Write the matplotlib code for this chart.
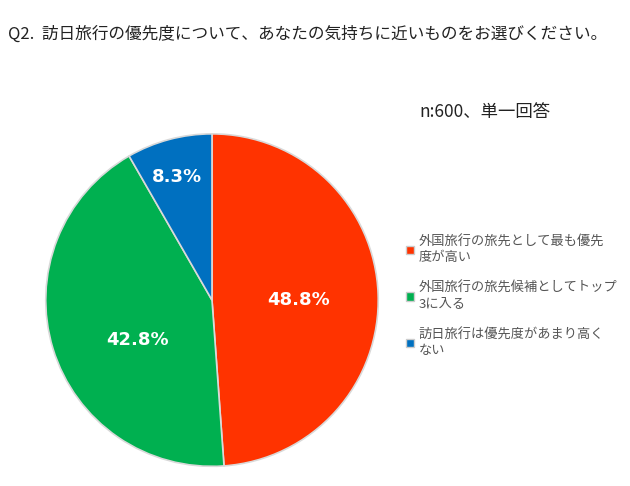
import matplotlib.pyplot as plt
from matplotlib.patches import Patch

plt.rcParams['font.family'] = ['Noto Sans CJK JP', 'DejaVu Sans']

labels = ['外国旅行の旅先として最も優先\n度が高い', '外国旅行の旅先候補としてトップ\n3に入る', '訪日旅行は優先度があまり高く\nない']
values = [48.8, 42.8, 8.3]
colors = ['#FF3300', '#00B050', '#0070C0']

fig = plt.figure(figsize=(6.3, 4.86), dpi=100)
ax = fig.add_axes([0.07, 0.037, 0.533, 0.691])
wedges, _ = ax.pie(values, colors=colors, startangle=90, counterclock=False,
                   wedgeprops=dict(edgecolor='#D9D9D9', linewidth=1.2))
ax.set_xlim(-1.01, 1.01)
ax.set_ylim(-1.01, 1.01)
ax.set_aspect('equal')

# パーセント表示
pos = [(0.52, 0.0), (-0.45, -0.24), (-0.21, 0.74)]
for (x, y), v in zip(pos, values):
    ax.text(x, y, f'{v}%', ha='center', va='center', color='white',
            fontsize=13, fontweight='bold', family=['DejaVu Sans'])

fig.text(0.012, 0.93, 'Q2.  訪日旅行の優先度について、あなたの気持ちに近いものをお選びください。',
         fontsize=12, color='#222222', va='center')
fig.text(0.665, 0.77, 'n:600、単一回答', fontsize=12.5, color='#222222', va='center')

handles = [Patch(facecolor=c, edgecolor='#CCCCCC') for c in colors]
fig.legend(handles, labels, loc='upper left', bbox_to_anchor=(0.625, 0.54),
           frameon=False, fontsize=9.5, labelspacing=1.4, handlelength=0.6,
           handleheight=0.6, handletextpad=0.4, labelcolor='#555555')

fig.savefig('out.png', dpi=100)
